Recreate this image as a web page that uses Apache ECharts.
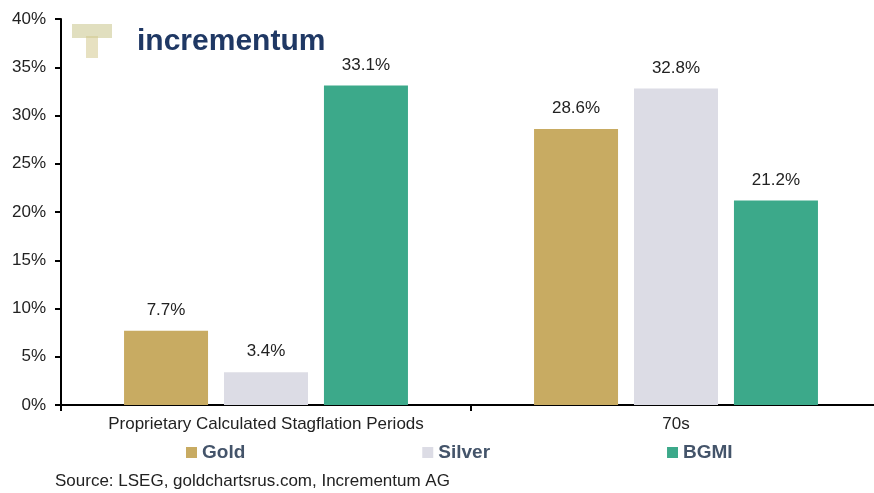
<!DOCTYPE html>
<html>
<head>
<meta charset="utf-8">
<script src="https://cdn.jsdelivr.net/npm/echarts@6/dist/echarts.min.js"></script>
<style>html,body{margin:0;padding:0;background:#fff}#c{width:874px;height:493px}</style>
</head>
<body>
<div id="c"></div>
<script>
const categories = ['Proprietary Calculated Stagflation Periods', '70s'];
const gold = [7.7, 28.6];
const silver = [3.4, 32.8];
const bgmi = [33.1, 21.2];
const seriesNames = ['Gold', 'Silver', 'BGMI'];
const yTicks = [0, 5, 10, 15, 20, 25, 30, 35, 40];

const chart = echarts.init(document.getElementById('c'));
const font = "'Liberation Sans', Arial, sans-serif";
const label = {
  show: true, position: 'top', distance: 12,
  formatter: p => p.value.toFixed(1) + '%',
  color: '#222', fontSize: 17, fontFamily: font
};
function bar(name, data, color) {
  return {
    name, type: 'bar', data, barWidth: 84, barGap: '19%',
    itemStyle: { color },
    label
  };
}
chart.setOption({
  animation: false,
  backgroundColor: '#fff',
  grid: { left: 61, width: 820, top: 19, bottom: 88, outerBoundsMode: 'none', containLabel: false },
  legend: {
    data: seriesNames, left: 181, top: 438, itemWidth: 11, itemHeight: 11, itemGap: 177,
    icon: 'rect',
    itemStyle: { borderWidth: 0 },
    textStyle: { color: '#44546a', fontSize: 19, fontWeight: 'bold', fontFamily: font }
  },
  xAxis: {
    type: 'category', data: categories,
    axisLine: { lineStyle: { color: '#000', width: 2 } },
    axisTick: { show: true, interval: 0, length: 6, lineStyle: { color: '#000', width: 2 } },
    axisLabel: { interval: 0, color: '#222', fontSize: 17, fontFamily: font, margin: 11 }
  },
  yAxis: {
    type: 'value', min: yTicks[0], max: yTicks[yTicks.length - 1], interval: 5,
    axisLine: { show: true, lineStyle: { color: '#000', width: 2 } },
    axisTick: { show: true, length: 6, lineStyle: { color: '#000', width: 2 } },
    splitLine: { show: false },
    axisLabel: { formatter: '{value}%', color: '#222', fontSize: 17, fontFamily: font, margin: 15 }
  },
  graphic: [
    { type: 'rect', left: 72, top: 24, shape: { width: 40, height: 14 }, style: { fill: '#c9c48a', opacity: 0.55 }, z: 0 },
    { type: 'rect', left: 86, top: 36, shape: { width: 12, height: 22 }, style: { fill: '#d4c88e', opacity: 0.55 }, z: 0 },
    { type: 'text', left: 137, top: 27, style: { text: 'incrementum', fill: '#1f3864', font: "bold 30px 'Liberation Sans', Arial, sans-serif" } },
    { type: 'text', left: 55, top: 473, style: { text: 'Source: LSEG, goldchartsrus.com, Incrementum AG', fill: '#222', font: "17px 'Liberation Sans', Arial, sans-serif" } }
  ],
  series: [
    bar('Gold', gold, '#c8ab62'),
    bar('Silver', silver, '#dcdce5'),
    bar('BGMI', bgmi, '#3ca98a')
  ]
});
</script>
</body>
</html>
